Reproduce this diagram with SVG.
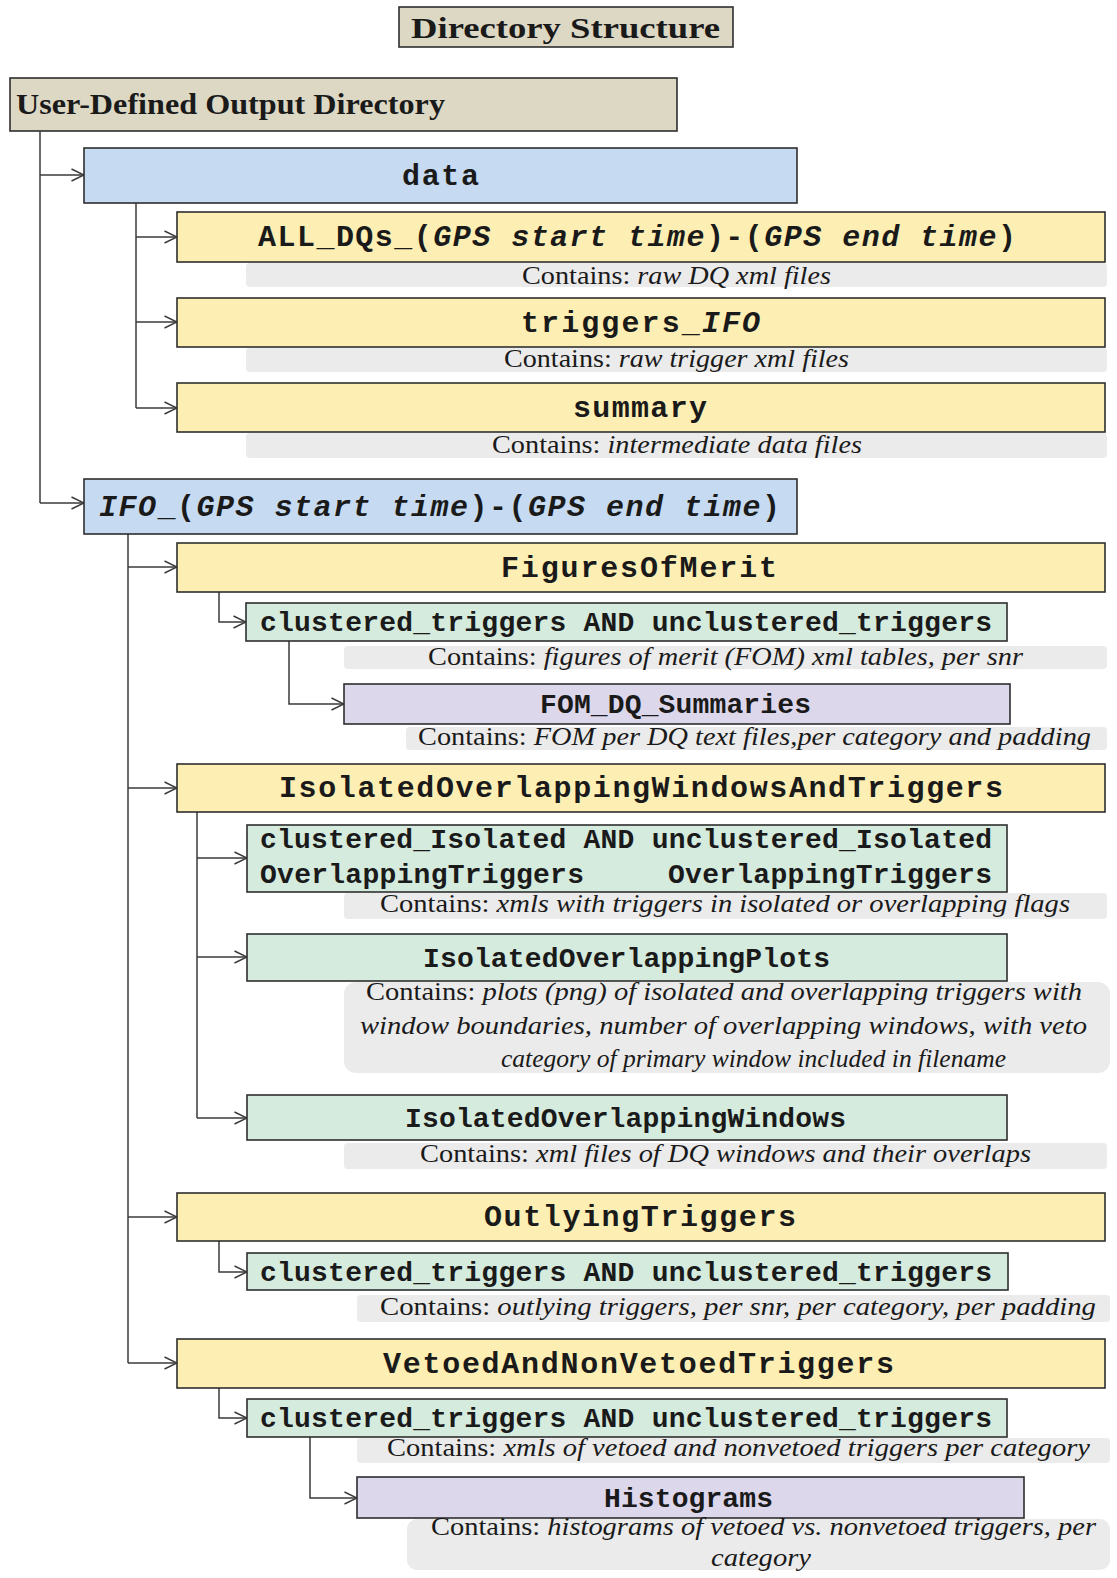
<svg xmlns="http://www.w3.org/2000/svg" width="1117" height="1578" viewBox="0 0 1117 1578">
<defs>
<marker id="arr" markerUnits="userSpaceOnUse" viewBox="0 0 14 14" refX="13.5" refY="7" markerWidth="14" markerHeight="14" orient="auto">
<path d="M1,1 L13.5,7 L1,13" fill="none" stroke="#3a3a3a" stroke-width="1.4"/>
</marker>
</defs>
<style>
.box{stroke:#2e2e2e;stroke-width:1.6}
.tan{fill:#ddd8c4}
.blue{fill:#c6dbf1}
.yel{fill:#fdefb3}
.grn{fill:#d5ebde}
.pur{fill:#ddd7ec}
.note{fill:#ebebeb}
.mono{font-family:"Liberation Mono","Courier New",monospace;font-size:30px;font-weight:bold;fill:#1a1a1a}
.sm{font-size:28px}
.ser{font-family:"Liberation Serif","Times New Roman",serif;fill:#1a1a1a}
.hd{font-size:30px;font-weight:bold}
.ds{font-size:25px}
.it{font-style:italic}
.con{fill:none;stroke:#3a3a3a;stroke-width:1.5}
</style>
<rect width="1117" height="1578" fill="#ffffff"/>

<g id="title">
<rect class="box tan" x="399" y="7" width="334" height="40"/>
<text class="ser hd" x="411" y="38" font-size="33" textLength="309" lengthAdjust="spacingAndGlyphs">Directory Structure</text>
</g>

<g id="root">
<rect class="box tan" x="10" y="78" width="667" height="53"/>
<text class="ser hd" x="16" y="114" textLength="429" lengthAdjust="spacingAndGlyphs">User-Defined  Output Directory</text>
</g>

<g id="connectors">
<path class="con" d="M40,131 V503"/>
<path class="con" d="M40,175 H84" marker-end="url(#arr)"/>
<path class="con" d="M40,503 H84" marker-end="url(#arr)"/>
<path class="con" d="M136,203 V408"/>
<path class="con" d="M136,237 H177" marker-end="url(#arr)"/>
<path class="con" d="M136,322 H177" marker-end="url(#arr)"/>
<path class="con" d="M136,408 H177" marker-end="url(#arr)"/>
<path class="con" d="M128,534 V1363"/>
<path class="con" d="M128,567 H177" marker-end="url(#arr)"/>
<path class="con" d="M128,788 H177" marker-end="url(#arr)"/>
<path class="con" d="M128,1217 H177" marker-end="url(#arr)"/>
<path class="con" d="M128,1363 H177" marker-end="url(#arr)"/>
<path class="con" d="M219,592 V622 H246" marker-end="url(#arr)"/>
<path class="con" d="M289,641 V704 H344" marker-end="url(#arr)"/>
<path class="con" d="M197,812 V1118" stroke-width="2"/>
<path class="con" d="M197,858 H247" marker-end="url(#arr)"/>
<path class="con" d="M197,957 H247" marker-end="url(#arr)"/>
<path class="con" d="M197,1118 H247" marker-end="url(#arr)"/>
<path class="con" d="M219,1241 V1272 H247" marker-end="url(#arr)"/>
<path class="con" d="M219,1388 V1418 H247" marker-end="url(#arr)"/>
<path class="con" d="M310,1437 V1498 H357" marker-end="url(#arr)"/>
</g>

<g id="data">
<rect class="box blue" x="84" y="148" width="713" height="55"/>
<text class="mono" x="402" y="185" textLength="77" lengthAdjust="spacing">data</text>
</g>

<g id="all-dqs">
<rect class="box yel" x="177" y="212" width="928" height="50"/>
<text class="mono" x="258" y="246" textLength="758" lengthAdjust="spacing">ALL_DQs_(<tspan class="it">GPS start time</tspan>)-(<tspan class="it">GPS end time</tspan>)</text>
<rect class="note" x="246" y="263" width="861" height="24" rx="4"/>
<text class="ser ds" x="522" y="284" textLength="309" lengthAdjust="spacingAndGlyphs">Contains: <tspan class="it">raw DQ xml files</tspan></text>
</g>

<g id="triggers-ifo">
<rect class="box yel" x="177" y="298" width="928" height="49"/>
<text class="mono" x="521" y="332" textLength="239" lengthAdjust="spacing">triggers_<tspan class="it">IFO</tspan></text>
<rect class="note" x="246" y="348" width="861" height="24" rx="4"/>
<text class="ser ds" x="504" y="367" textLength="345" lengthAdjust="spacingAndGlyphs">Contains: <tspan class="it">raw trigger xml files</tspan></text>
</g>

<g id="summary">
<rect class="box yel" x="177" y="383" width="928" height="49"/>
<text class="mono" x="573" y="417" textLength="134" lengthAdjust="spacing">summary</text>
<rect class="note" x="246" y="433" width="861" height="25" rx="4"/>
<text class="ser ds" x="492" y="453" textLength="370" lengthAdjust="spacingAndGlyphs">Contains: <tspan class="it">intermediate data files</tspan></text>
</g>

<g id="ifo">
<rect class="box blue" x="84" y="479" width="713" height="55"/>
<text class="mono" x="99" y="516" textLength="681" lengthAdjust="spacing"><tspan class="it">IFO</tspan>_(<tspan class="it">GPS start time</tspan>)-(<tspan class="it">GPS end time</tspan>)</text>
</g>

<g id="figures-of-merit">
<rect class="box yel" x="177" y="543" width="928" height="49"/>
<text class="mono" x="501" y="577" textLength="276" lengthAdjust="spacing">FiguresOfMerit</text>
</g>

<g id="fom-clustered">
<rect class="box grn" x="246" y="603" width="761" height="38"/>
<text class="mono sm" x="260" y="631" textLength="732" lengthAdjust="spacing">clustered_triggers AND unclustered_triggers</text>
<rect class="note" x="344" y="646" width="763" height="23" rx="4"/>
<text class="ser ds" x="428" y="665" textLength="595" lengthAdjust="spacingAndGlyphs">Contains: <tspan class="it">figures of merit (FOM) xml tables, per snr</tspan></text>
</g>

<g id="fom-dq-summaries">
<rect class="box pur" x="344" y="684" width="666" height="40"/>
<text class="mono sm" x="540" y="713" textLength="271" lengthAdjust="spacing">FOM_DQ_Summaries</text>
<rect class="note" x="406" y="727" width="701" height="23" rx="4"/>
<text class="ser ds" x="418" y="745" textLength="673" lengthAdjust="spacingAndGlyphs">Contains: <tspan class="it">FOM per DQ text files,per category and padding</tspan></text>
</g>

<g id="isolated-overlapping">
<rect class="box yel" x="177" y="764" width="928" height="48"/>
<text class="mono" x="279" y="797" textLength="724" lengthAdjust="spacing">IsolatedOverlappingWindowsAndTriggers</text>
</g>

<g id="iso-clustered">
<rect class="box grn" x="247" y="825" width="760" height="67"/>
<text class="mono sm" x="260" y="848" textLength="732" lengthAdjust="spacing">clustered_Isolated AND unclustered_Isolated</text>
<text class="mono sm" x="260" y="883" textLength="324" lengthAdjust="spacing">OverlappingTriggers</text>
<text class="mono sm" x="668" y="883" textLength="324" lengthAdjust="spacing">OverlappingTriggers</text>
<rect class="note" x="344" y="893" width="763" height="26" rx="4"/>
<text class="ser ds" x="380" y="912" textLength="690" lengthAdjust="spacingAndGlyphs">Contains: <tspan class="it">xmls with triggers in isolated or overlapping flags</tspan></text>
</g>

<g id="iso-plots">
<rect class="box grn" x="247" y="934" width="760" height="47"/>
<text class="mono sm" x="423" y="967" textLength="407" lengthAdjust="spacing">IsolatedOverlappingPlots</text>
<rect class="note" x="344" y="982" width="766" height="91" rx="12"/>
<text class="ser ds" x="366" y="1000" textLength="716" lengthAdjust="spacingAndGlyphs">Contains: <tspan class="it">plots (png) of isolated and overlapping triggers with</tspan></text>
<text class="ser ds it" x="360" y="1034" textLength="727" lengthAdjust="spacingAndGlyphs">window boundaries, number of overlapping windows, with veto</text>
<text class="ser ds it" x="501" y="1067" textLength="505" lengthAdjust="spacingAndGlyphs">category of primary window included in filename</text>
</g>

<g id="iso-windows">
<rect class="box grn" x="247" y="1095" width="760" height="45"/>
<text class="mono sm" x="405" y="1127" textLength="441" lengthAdjust="spacing">IsolatedOverlappingWindows</text>
<rect class="note" x="344" y="1143" width="763" height="26" rx="4"/>
<text class="ser ds" x="420" y="1162" textLength="611" lengthAdjust="spacingAndGlyphs">Contains: <tspan class="it">xml files of DQ windows and their overlaps</tspan></text>
</g>

<g id="outlying">
<rect class="box yel" x="177" y="1193" width="928" height="48"/>
<text class="mono" x="484" y="1226" textLength="312" lengthAdjust="spacing">OutlyingTriggers</text>
</g>

<g id="outlying-clustered">
<rect class="box grn" x="247" y="1253" width="761" height="37"/>
<text class="mono sm" x="260" y="1281" textLength="732" lengthAdjust="spacing">clustered_triggers AND unclustered_triggers</text>
<rect class="note" x="357" y="1295" width="753" height="27" rx="4"/>
<text class="ser ds" x="380" y="1315" textLength="716" lengthAdjust="spacingAndGlyphs">Contains: <tspan class="it">outlying triggers, per snr, per category, per padding</tspan></text>
</g>

<g id="vetoed">
<rect class="box yel" x="177" y="1339" width="928" height="49"/>
<text class="mono" x="383" y="1373" textLength="511" lengthAdjust="spacing">VetoedAndNonVetoedTriggers</text>
</g>

<g id="vetoed-clustered">
<rect class="box grn" x="247" y="1399" width="760" height="38"/>
<text class="mono sm" x="260" y="1427" textLength="732" lengthAdjust="spacing">clustered_triggers AND unclustered_triggers</text>
<rect class="note" x="357" y="1438" width="753" height="25" rx="4"/>
<text class="ser ds" x="387" y="1456" textLength="703" lengthAdjust="spacingAndGlyphs">Contains: <tspan class="it">xmls of vetoed and nonvetoed triggers per category</tspan></text>
</g>

<g id="histograms">
<rect class="box pur" x="357" y="1477" width="667" height="41"/>
<text class="mono sm" x="604" y="1507" textLength="169" lengthAdjust="spacing">Histograms</text>
<rect class="note" x="407" y="1519" width="703" height="51" rx="10"/>
<text class="ser ds" x="431" y="1535" textLength="665" lengthAdjust="spacingAndGlyphs">Contains: <tspan class="it">histograms of vetoed vs. nonvetoed triggers, per</tspan></text>
<text class="ser ds it" x="711" y="1566" textLength="100" lengthAdjust="spacingAndGlyphs">category</text>
</g>
</svg>
